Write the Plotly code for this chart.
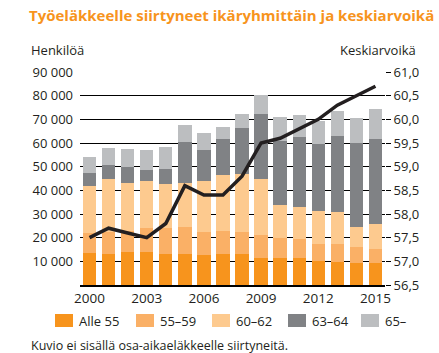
import plotly.graph_objects as go

years = list(range(2000, 2016))
alle55 = [13500, 13200, 14000, 14000, 13200, 13200, 12500, 12900, 12900, 11600, 11200, 11200, 10200, 9900, 9100, 9100]
a55_59 = [8500, 9300, 9000, 10000, 10800, 11200, 10100, 10100, 9700, 9400, 8700, 8400, 7100, 7400, 6800, 6300]
a60_62 = [19800, 22500, 20100, 19800, 18700, 18900, 21400, 23500, 24200, 24000, 14100, 13200, 14100, 13600, 8700, 10400]
a63_64 = [5400, 5600, 6700, 4800, 6400, 17000, 13000, 15200, 19500, 27400, 27000, 29600, 28200, 32200, 35300, 35900]
a65 = [6700, 7300, 7500, 8600, 9200, 7100, 7100, 5200, 6100, 7700, 9900, 9300, 9700, 10400, 10700, 12700]
avg_age = [57.5, 57.7, 57.6, 57.5, 57.8, 58.6, 58.4, 58.4, 58.8, 59.5, 59.6, 59.8, 60.0, 60.3, 60.5, 60.7]

series_names = ["Alle 55", "55–59", "60–62", "63–64", "65–"]
series_vals = [alle55, a55_59, a60_62, a63_64, a65]
colors = ["#F7941D", "#FAB066", "#FDCA8F", "#808285", "#BCBEC0"]

left_tickvals = [10000, 20000, 30000, 40000, 50000, 60000, 70000, 80000, 90000]
left_ticktext = ["10 000", "20 000", "30 000", "40 000", "50 000", "60 000", "70 000", "80 000", "90 000"]
right_tickvals = [56.5, 57.0, 57.5, 58.0, 58.5, 59.0, 59.5, 60.0, 60.5, 61.0]
right_ticktext = ["56,5", "57,0", "57,5", "58,0", "58,5", "59,0", "59,5", "60,0", "60,5", "61,0"]
x_tickvals = [2000, 2003, 2006, 2009, 2012, 2015]

title = "Työeläkkeelle siirtyneet ikäryhmittäin ja keskiarvoikä"
footnote = "Kuvio ei sisällä osa-aikaeläkkeelle siirtyneitä."

FONT = "Open Sans"
TXT = "#231F20"

fig = go.Figure()
for name, vals, c in zip(series_names, series_vals, colors):
    fig.add_trace(go.Bar(x=years, y=vals, name=name, marker=dict(color=c, line=dict(width=0)),
                         width=0.7, showlegend=False))
fig.add_trace(go.Scatter(x=years, y=avg_age, yaxis="y2", mode="lines",
                         line=dict(color="#231F20", width=3.5), showlegend=False))

W, H = 439, 353
L, R, T, B = 80, 54, 72, 68
pw, ph = W - L - R, H - T - B

def px(x):
    return (x - L) / pw

def py(y):
    return (H - B - y) / ph

shapes = []
annotations = []
leg_x = [55, 136, 212, 288, 361]
for xx, name, c in zip(leg_x, series_names, colors):
    shapes.append(dict(type="rect", xref="paper", yref="paper", x0=px(xx), x1=px(xx + 18),
                       y0=py(327), y1=py(314), fillcolor=c, line=dict(width=0)))
    annotations.append(dict(xref="paper", yref="paper", x=px(xx + 22), y=py(320.5), text=name,
                            showarrow=False, xanchor="left", yanchor="middle",
                            font=dict(family=FONT, size=13, color=TXT)))

annotations += [
    dict(xref="paper", yref="paper", x=px(27), y=py(15), text="<b>" + title + "</b>", showarrow=False,
         xanchor="left", yanchor="middle", font=dict(family=FONT, size=15, color="#F7941D")),
    dict(xref="paper", yref="paper", x=px(29), y=py(50), text="Henkilöä", showarrow=False,
         xanchor="left", yanchor="middle", font=dict(family=FONT, size=13, color=TXT)),
    dict(xref="paper", yref="paper", x=px(418), y=py(50), text="Keskiarvoikä", showarrow=False,
         xanchor="right", yanchor="middle", font=dict(family=FONT, size=13, color=TXT)),
    dict(xref="paper", yref="paper", x=px(29), y=py(345), text=footnote, showarrow=False,
         xanchor="left", yanchor="middle", font=dict(family=FONT, size=12.5, color=TXT)),
]

fig.update_layout(
    width=W, height=H, margin=dict(l=L, r=R, t=T, b=B, pad=0),
    barmode="stack", plot_bgcolor="white", paper_bgcolor="white",
    font=dict(family=FONT, size=13, color=TXT),
    xaxis=dict(range=[1999.5, 2015.5], tickvals=x_tickvals, showgrid=False, ticks="",
               showline=True, linecolor="black", linewidth=1.5, tickfont=dict(size=13.5), zeroline=False),
    yaxis=dict(range=[0, 90000], tickvals=left_tickvals, ticktext=left_ticktext, showgrid=True,
               gridcolor="black", gridwidth=1, zeroline=False, ticks="", showline=False,
               tickfont=dict(size=13), ticklabelstandoff=6),
    yaxis2=dict(range=[56.5, 61.0], tickvals=right_tickvals, ticktext=right_ticktext, overlaying="y",
                side="right", showgrid=False, zeroline=False, ticks="outside", ticklen=5,
                tickcolor="black", tickwidth=1, showline=False, tickfont=dict(size=13)),
    shapes=shapes, annotations=annotations,
)

fig.write_html("out.html")
